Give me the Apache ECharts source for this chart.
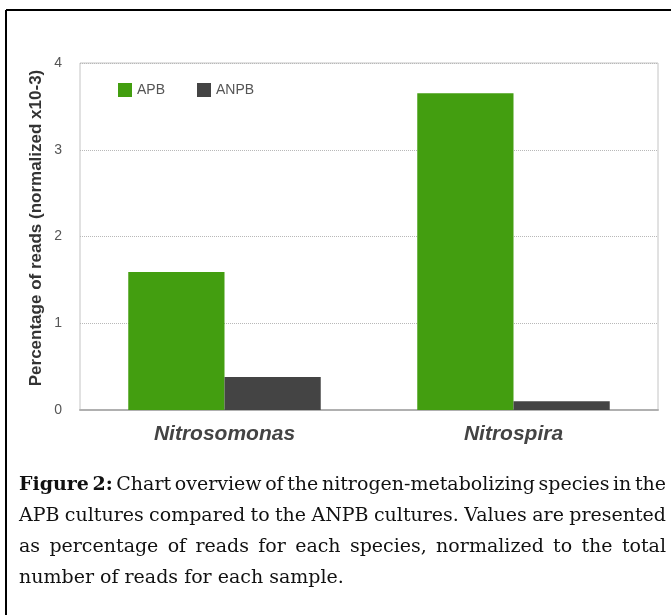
<!DOCTYPE html>
<html>
<head>
<meta charset="utf-8">
<script src="https://cdn.jsdelivr.net/npm/echarts@6/dist/echarts.min.js"></script>
<style>
  html, body { margin: 0; padding: 0; background: #fff; }
  #chart { width: 671px; height: 615px; }
</style>
</head>
<body>
<div id="chart"></div>
<script>
// chart data
var categories = ['Nitrosomonas', 'Nitrospira'];
var seriesNames = ['APB', 'ANPB'];
var apbValues = [1.59, 3.65];
var anpbValues = [0.38, 0.10];
var yTitle = 'Percentage of reads (normalized x10-3)';

// caption, one entry per printed line
var captionLines = [
    'Figure 2: Chart overview of the nitrogen-metabolizing species in the',
    'APB cultures compared to the ANPB cultures. Values are presented',
    'as percentage of reads for each species, normalized to the total',
    'number of reads for each sample.'
];
var boldWords = 2; // "Figure 2:" is bold

var sans = '"Liberation Sans", Arial, Helvetica, sans-serif';
var serif = '"DejaVu Serif", "Liberation Serif", serif';

// lay out the justified caption word by word
var ctx = document.createElement('canvas').getContext('2d');
function textWidth(t, weight, size) {
    ctx.font = weight + ' ' + size + 'px ' + serif;
    return ctx.measureText(t).width;
}
var capLeft = 19, capRight = 666, capTop = 485, capLine = 31, capSize = 19;
var captionEls = [];
captionLines.forEach(function (line, li) {
    var words = line.split(' ');
    var widths = words.map(function (w, wi) {
        var bold = (li === 0 && wi < boldWords);
        return textWidth(w, bold ? 'bold' : 'normal', capSize);
    });
    var total = widths.reduce(function (a, b) { return a + b; }, 0);
    var gap = (li < captionLines.length - 1)
        ? (capRight - capLeft - total) / (words.length - 1)
        : textWidth(' ', 'normal', capSize);
    var x = capLeft;
    words.forEach(function (w, wi) {
        var bold = (li === 0 && wi < boldWords);
        captionEls.push({
            type: 'text',
            x: x,
            y: capTop + li * capLine,
            style: {
                text: w,
                fontFamily: serif,
                fontSize: capSize,
                fontWeight: bold ? 'bold' : 'normal',
                fill: '#111',
                verticalAlign: 'middle'
            }
        });
        x += widths[wi] + gap;
    });
});

var chart = echarts.init(document.getElementById('chart'), null, { renderer: 'canvas' });

var option = {
    animation: false,
    backgroundColor: '#fff',
    grid: {
        left: 80, top: 63, right: 13, bottom: 205,
        show: true, borderColor: '#c4c4c4', borderWidth: 1
    },
    legend: {
        left: 118, top: 83, padding: 0,
        icon: 'rect', itemWidth: 14, itemHeight: 14, itemGap: 32,
        textStyle: { fontFamily: sans, fontSize: 14, color: '#555' },
        data: seriesNames
    },
    xAxis: {
        type: 'category',
        data: categories,
        axisTick: { show: false },
        axisLine: { lineStyle: { color: '#b0b0b0', width: 2 } },
        axisLabel: {
            margin: 14,
            fontFamily: sans, fontSize: 21, fontWeight: 'bold', fontStyle: 'italic',
            color: '#444'
        }
    },
    yAxis: {
        type: 'value',
        min: 0, max: 4, interval: 1,
        axisLine: { show: false },
        axisTick: { show: false },
        axisLabel: { margin: 18, fontFamily: sans, fontSize: 14, color: '#555' },
        splitLine: { lineStyle: { type: 'dotted', color: '#b8b8b8' } }
    },
    series: [
        {
            name: seriesNames[0], type: 'bar',
            data: apbValues, barWidth: '33.3%', barGap: '0%',
            itemStyle: { color: '#439e10' }
        },
        {
            name: seriesNames[1], type: 'bar',
            data: anpbValues, barWidth: '33.3%', barGap: '0%',
            itemStyle: { color: '#444444' }
        }
    ],
    graphic: [
        // figure frame (left and top edges are visible)
        { type: 'line', shape: { x1: 6, y1: 10, x2: 671, y2: 10 }, style: { stroke: '#000', lineWidth: 2 } },
        { type: 'line', shape: { x1: 6, y1: 10, x2: 6, y2: 615 }, style: { stroke: '#000', lineWidth: 2 } },
        // y axis title
        {
            type: 'text', x: 36, y: 228, rotation: Math.PI / 2,
            style: {
                text: yTitle, fontFamily: sans, fontSize: 17, fontWeight: 'bold',
                fill: '#333', align: 'center', verticalAlign: 'middle'
            }
        }
    ].concat(captionEls)
};

chart.setOption(option);
</script>
</body>
</html>
